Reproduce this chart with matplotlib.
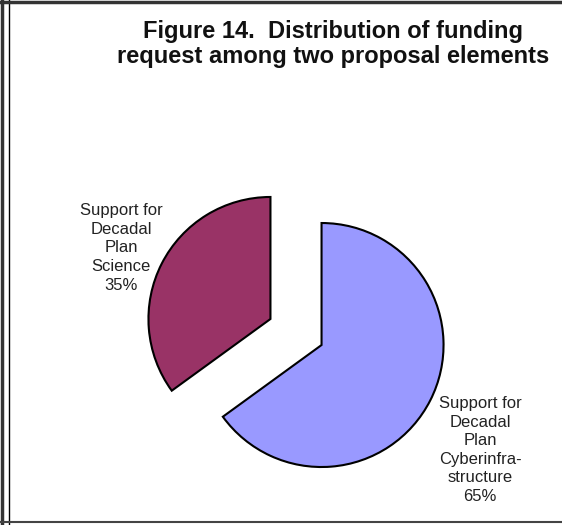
import matplotlib
matplotlib.use("Agg")
import matplotlib.pyplot as plt
from matplotlib.lines import Line2D

# data
labels = ["Support for\nDecadal\nPlan\nScience", "Support for\nDecadal\nPlan\nCyberinfra-\nstructure"]
shares = [35, 65]
colors = ["#993366", "#9999FF"]
explode_frac = [0.235, 0.235]   # fraction of the radius
title = "Figure 14.  Distribution of funding\nrequest among two proposal elements"

plt.rcParams['font.family'] = ['Liberation Sans', 'DejaVu Sans']

W, H = 562, 525
R = 122  # pie radius in pixels
fig = plt.figure(figsize=(W / 100, H / 100), dpi=100)
ax = fig.add_axes([0, 0, 1, 1])

# pie in pixel space; y axis is flipped afterwards, so counterclock=False
# gives the Excel-style clockwise layout seen on screen
wedges, _ = ax.pie(shares, colors=colors, explode=[e * R for e in explode_frac],
                   startangle=-90, counterclock=False, center=(296, 332), radius=R,
                   wedgeprops=dict(edgecolor='black', linewidth=1.5), frame=True)
ax.set_xlim(0, W)
ax.set_ylim(H, 0)
ax.set_aspect('equal')
ax.axis('off')

# slice labels
label_pos = [(121, 248), (480, 450)]
for lab, pct, (x, y) in zip(labels, shares, label_pos):
    ax.text(x, y, f"{lab}\n{pct}%", ha='center', va='center', fontsize=12,
            linespacing=1.3, color='#222222')

fig.text(333 / W, 1 - 44 / H, title, ha='center', va='center', fontsize=17,
         fontweight='bold', linespacing=1.1, color='#111111')

# frame lines around the picture
fig.add_artist(Line2D([1.5 / W, 1.5 / W], [0, 1], color='#333333', lw=2.5))
fig.add_artist(Line2D([8.5 / W, 8.5 / W], [0, 1], color='black', lw=1))
fig.add_artist(Line2D([0, 1], [1 - 1.5 / H, 1 - 1.5 / H], color='#333333', lw=2.5))
fig.add_artist(Line2D([0, 1], [1 - 522 / H, 1 - 522 / H], color='#444444', lw=1.5))

fig.savefig("out.png", dpi=100)
